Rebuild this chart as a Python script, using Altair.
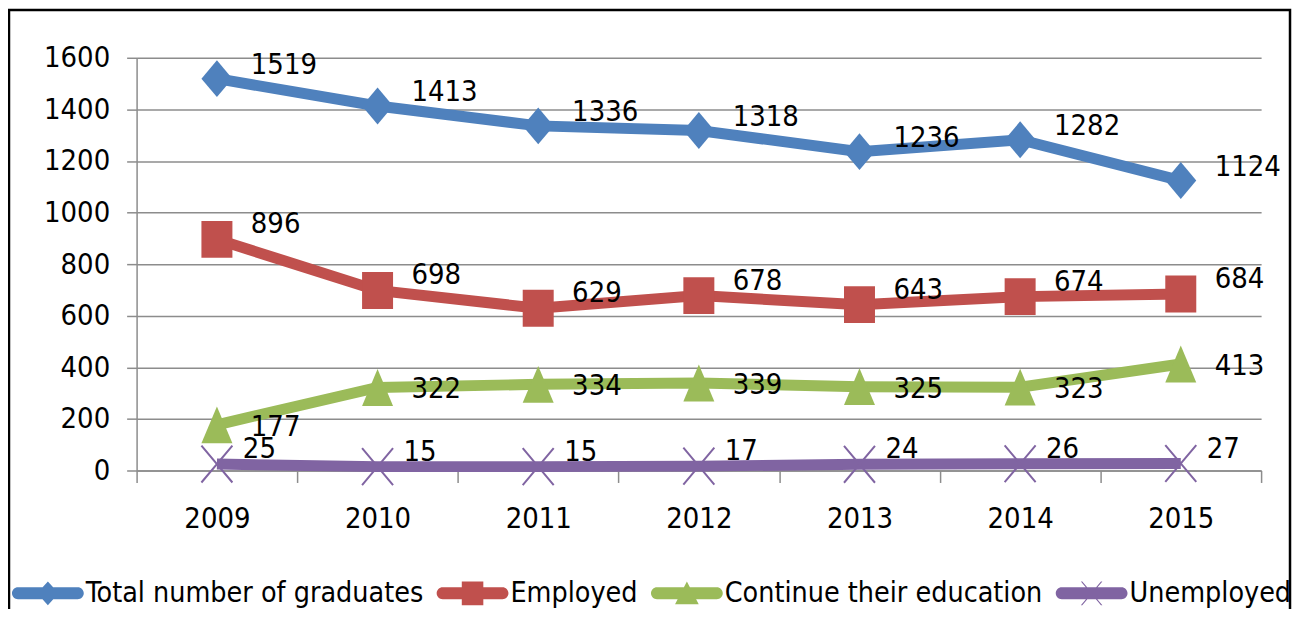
import altair as alt
import pandas as pd

years = ["2009", "2010", "2011", "2012", "2013", "2014", "2015"]
series_names = ["Total number of graduates", "Employed", "Continue their education", "Unemployed"]
total = [1519, 1413, 1336, 1318, 1236, 1282, 1124]
employed = [896, 698, 629, 678, 643, 674, 684]
continue_edu = [177, 322, 334, 339, 325, 323, 413]
unemployed = [25, 15, 15, 17, 24, 26, 27]
y_ticks = [0, 200, 400, 600, 800, 1000, 1200, 1400, 1600]

colors = ["#4F81BD", "#C0504D", "#9BBB59", "#8064A2"]

rows = []
for name, vals in zip(series_names, [total, employed, continue_edu, unemployed]):
    for yr, v in zip(years, vals):
        rows.append({"year": yr, "series": name, "value": v})
df = pd.DataFrame(rows)

FONT = "DejaVu Sans Condensed"
GRID = "#8c8c8c"

# marker shapes (custom paths in [-1,1] box)
diamond = "M0,-1L0.84,0L0,1L-0.84,0Z"
square = "M-0.84,-1H0.84V1H-0.84Z"
triangle = "M0,-1L0.84,1H-0.84Z"
xmark = "M-0.84,-1L0.84,1M-0.84,1L0.84,-1"

# legend symbols: thick rounded bar + marker
bar = "M-0.833,-0.167H0.833A0.167,0.167 0 0 1 0.833,0.167H-0.833A0.167,0.167 0 0 1 -0.833,-0.167Z"
leg_paths = [
    bar + "M0,-0.33L0.3,0L0,0.33L-0.3,0Z",
    bar + "M-0.3,-0.33H0.3V0.33H-0.3Z",
    bar + "M0,-0.33L0.33,0.3H-0.33Z",
    bar + "M-0.3,-0.33L-0.26,-0.33L0.3,0.33L0.26,0.33ZM0.26,-0.33L0.3,-0.33L-0.26,0.33L-0.3,0.33Z",
]

x = alt.X(
    "year:N",
    scale=alt.Scale(type="band", paddingInner=0, paddingOuter=0),
    axis=alt.Axis(title=None, labelAngle=0, tickBand="extent", tickSize=12,
                  labelPadding=22, grid=False),
)
y = alt.Y(
    "value:Q",
    scale=alt.Scale(domain=[0, 1600], nice=False),
    axis=alt.Axis(title=None, values=y_ticks, format="d", tickSize=10, labelPadding=17, grid=True),
)
color = alt.Color("series:N", scale=alt.Scale(domain=series_names, range=colors), legend=None)

base = alt.Chart(df)

frame = alt.Chart(alt.Data(values=[{"a": 1}])).mark_rect(
    fillOpacity=0, stroke="black", strokeWidth=2.5
).encode(x=alt.value(-128), x2=alt.value(1157), y=alt.value(-48), y2=alt.value(620))

lines = base.mark_line(strokeWidth=11).encode(x=x, y=y, color=color)

# legend-only layer (invisible marks, legend symbols opaque)
legend = alt.Legend(
    title=None, orient="none", legendX=-125, legendY=501, direction="horizontal",
    columns=4, symbolSize=5184, symbolStrokeWidth=0, labelFont=FONT, labelFontSize=28.5,
    labelColor="black", labelOffset=2, columnPadding=13, labelLimit=1000, padding=0,
    symbolOpacity=1,
)
leg_layer = base.mark_point(filled=True, opacity=0).encode(
    x=x, y=y,
    fill=alt.Fill("series:N", scale=alt.Scale(domain=series_names, range=colors), legend=legend),
    shape=alt.Shape("series:N", scale=alt.Scale(domain=series_names, range=leg_paths), legend=legend),
)

layers = [frame, leg_layer, lines]
for name, shp in zip(series_names[:3], [diamond, square, triangle]):
    layers.append(
        base.transform_filter(alt.datum.series == name)
        .mark_point(shape=shp, filled=True, opacity=1, size=1369, strokeWidth=0)
        .encode(x=x, y=y, color=color)
    )
layers.append(
    base.transform_filter(alt.datum.series == series_names[3])
    .mark_point(shape=xmark, filled=False, opacity=1, size=1369, strokeWidth=2)
    .encode(x=x, y=y, color=color)
)

offsets = [(34, -14), (34, -15), (34, 2), (26, -15)]
for name, (dx, dy) in zip(series_names, offsets):
    layers.append(
        base.transform_filter(alt.datum.series == name)
        .mark_text(align="left", baseline="middle", dx=dx, dy=dy, font=FONT,
                   fontSize=29, color="black")
        .encode(x=x, y=y, text="value:Q")
    )

chart = (
    alt.layer(*layers)
    .properties(
        width=1128, height=414,
        autosize=alt.AutoSizeParams(type="none"),
        padding={"left": 129, "top": 49, "right": 32, "bottom": 138},
    )
    .configure_view(strokeWidth=0)
    .configure_axis(
        labelFont=FONT, labelFontSize=29, labelColor="black",
        domainColor=GRID, domainWidth=1.5, tickColor=GRID, tickWidth=1.5,
        gridColor=GRID, gridWidth=1.5,
    )
)

chart.save("out.html", embed_options={"renderer": "svg", "actions": False})
